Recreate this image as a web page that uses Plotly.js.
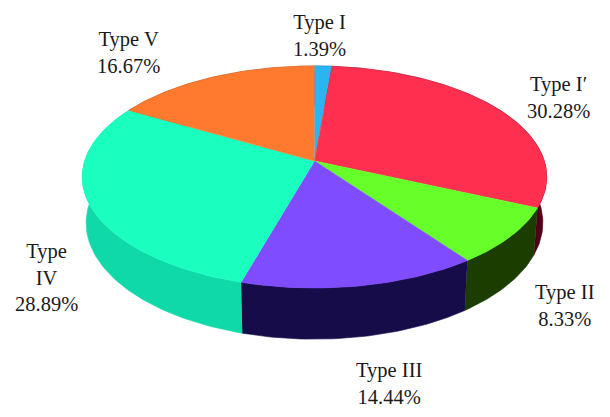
<!DOCTYPE html>
<html>
<head>
<meta charset="utf-8">
<script src="https://cdn.plot.ly/plotly-3.0.1.min.js"></script>
<style>html,body{margin:0;padding:0;background:#fff}#chart{width:610px;height:417px}</style>
</head>
<body>
<div id="chart"></div>
<script>
// Data
const categories = ['Type I', 'Type I\u2032', 'Type II', 'Type III', 'Type<br>IV', 'Type V'];
const shares = [1.39, 30.28, 8.33, 14.44, 28.89, 16.67];
const topColors = ['#29b5f0', '#ff304f', '#66ff29', '#7f4dff', '#1affc0', '#ff7a2e'];
const sideColors = ['#112277', '#4f0018', '#1b3d00', '#170c4a', '#0fd9a8', '#7a3a10'];
const labelX = [319.5, 558, 565, 389, 46, 128];
const labelY = [35, 97, 305, 383, 277, 52.5];

// Oblique view of the disc: a circle seen in perspective
const k = 0.144;
const topRim = {cx: 314.5, cy: 161, a: 229.8, b: 108.7};
const bottomRim = {cx: 314.5, cy: 206, a: 226, b: 114};

function project(rim, fraction) {
  const t = 2 * Math.PI * fraction;
  const X = Math.sin(t), Y = -Math.cos(t), d = 1 - k * Y;
  return [rim.cx + rim.a * X / d, rim.cy + rim.b * Y / d];
}
function arc(rim, from, to) {
  const n = Math.max(2, Math.ceil((to - from) * 360));
  const pts = [];
  for (let i = 0; i <= n; i++) pts.push(project(rim, from + (to - from) * i / n));
  return pts;
}
function poly(pts, color) {
  return {
    type: 'scatter', mode: 'lines', fill: 'toself', fillcolor: color,
    x: pts.map(p => p[0]), y: pts.map(p => p[1]),
    line: {color: color, width: 0.6}, hoverinfo: 'skip', showlegend: false
  };
}

const total = shares.reduce((a, b) => a + b, 0);
let acc = 0;
const sectors = shares.map(v => { const s = {from: acc / total, to: (acc + v) / total}; acc += v; return s; });

const sideTraces = [], topTraces = [];
sectors.forEach((s, i) => {
  const upper = arc(topRim, s.from, s.to), lower = arc(bottomRim, s.from, s.to).reverse();
  sideTraces.push(poly(upper.concat(lower), sideColors[i]));
  topTraces.push(poly([[topRim.cx, topRim.cy]].concat(upper), topColors[i]));
});

const annotations = categories.map((c, i) => ({
  x: labelX[i], y: labelY[i], xref: 'x', yref: 'y',
  text: c + '<br>' + shares[i].toFixed(2) + '%',
  showarrow: false, align: 'center', xanchor: 'center', yanchor: 'middle',
  font: {family: '"Liberation Serif", serif', size: 20.5, color: '#1a1a1a'}
}));

const hidden = {visible: false, fixedrange: true};
Plotly.newPlot('chart', sideTraces.concat(topTraces), {
  width: 610, height: 417, margin: {l: 0, r: 0, t: 0, b: 0},
  paper_bgcolor: '#fff', plot_bgcolor: '#fff', showlegend: false,
  xaxis: Object.assign({range: [0, 610]}, hidden),
  yaxis: Object.assign({range: [417, 0]}, hidden),
  annotations: annotations
}, {displayModeBar: false, staticPlot: true});
</script>
</body>
</html>
